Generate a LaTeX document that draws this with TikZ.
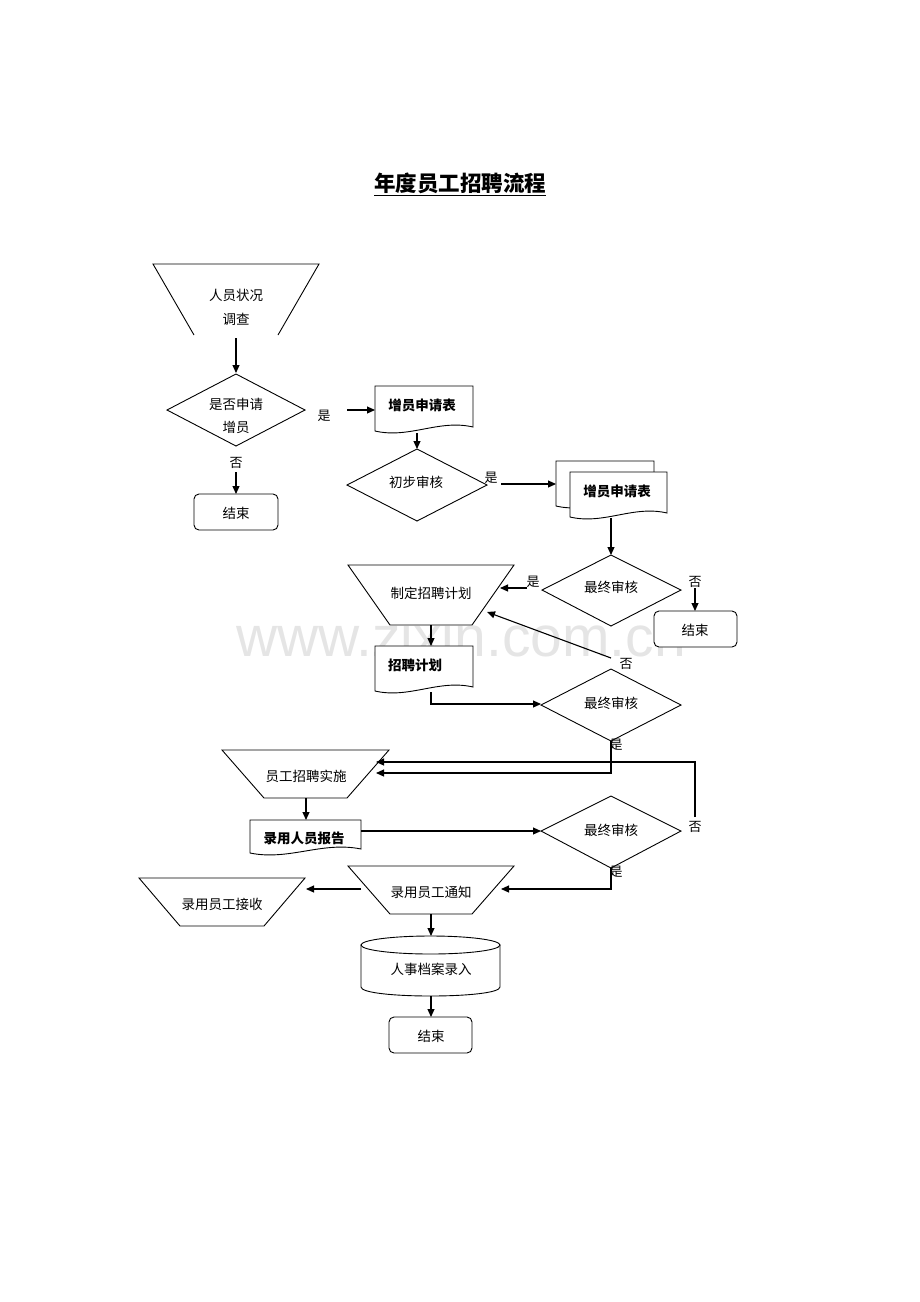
\documentclass[tikz,border=0pt]{standalone}
\usepackage{fontspec}
\setmainfont{Liberation Sans}
\newfontfamily\cjk{Noto Sans CJK SC}
\usetikzlibrary{arrows.meta}
\tikzset{
  shp/.style={draw=black, line width=0.9pt, fill=white},
  conn/.style={draw=black, line width=1.1pt},
  arr/.style={conn, -{Triangle[length=8pt,width=7pt]}},
  txt/.style={font=\cjk\fontsize{13.5}{15}\selectfont, inner sep=0pt},
  btxt/.style={font=\cjk\bfseries\fontsize{13.5}{15}\selectfont, inner sep=0pt},
  lbl/.style={font=\cjk\fontsize{13}{15}\selectfont, inner sep=0pt},
}
\newcommand\docbox[4]{%
  \path[shp] (#1,#4) -- (#1,#2) -- (#3,#2) -- (#3,{#4-4})
    .. controls ({#3-0.35*(#3-#1)},{#4-12}) and ({#1+0.35*(#3-#1)},{#4+8}) .. (#1,#4) -- cycle;}
\begin{document}
\begin{tikzpicture}[x=1pt,y=-1pt]
\useasboundingbox (0,0) rectangle (920,1302);
% watermark
\node[font=\fontsize{57}{60}\selectfont, text=black!10] (wm) at (461,636) {www.zixin.com.cn};
% title
\node[font=\cjk\bfseries\fontsize{21.5}{24}\selectfont, inner sep=0pt] (title) at (460,184) {\underline{年度员工招聘流程}};

% shapes
\draw[shp, fill=none] (194,335) -- (153,264) -- (319,264) -- (278,335);
\node[txt] (t1a) at (236,295) {人员状况};
\node[txt] (t1b) at (236,319) {调查};

\path[shp] (167,410) -- (236,374) -- (305,410) -- (236,446) -- cycle;
\node[txt] (d1a) at (236,404) {是否申请};
\node[txt] (d1b) at (236,427) {增员};

\draw[shp, rounded corners=5pt] (194,494) rectangle (278,530);
\node[txt] (e1) at (236,513) {结束};

\docbox{375}{386}{473}{431}
\node[btxt] (doc1) at (422,405) {增员申请表};

\path[shp] (347,485) -- (417,449) -- (487,485) -- (417,521) -- cycle;
\node[txt] (d2) at (416,482) {初步审核};

\docbox{556}{461}{654}{506}
\docbox{570}{472}{667}{517}
\node[btxt] (doc2) at (617,491) {增员申请表};

\path[shp] (542,590) -- (611,555) -- (681,590) -- (611,626) -- cycle;
\node[txt] (d3) at (611,587) {最终审核};

\draw[shp, rounded corners=5pt] (654,611) rectangle (737,647);
\node[txt] (e2) at (695,630) {结束};

\path[shp] (348,565) -- (514,565) -- (472,625) -- (390,625) -- cycle;
\node[txt] (p1) at (431,593) {制定招聘计划};

\docbox{375}{646}{473}{691}
\node[btxt] (doc3) at (415,665) {招聘计划};

\path[shp] (541,705) -- (611,669) -- (681,705) -- (611,741) -- cycle;
\node[txt] (d4) at (611,703) {最终审核};

\path[shp] (222,750) -- (389,750) -- (347,798) -- (264,798) -- cycle;
\node[txt] (p2) at (306,776) {员工招聘实施};

\docbox{250}{820}{361}{853}
\node[btxt] (doc4) at (304,838) {录用人员报告};

\path[shp] (541,831) -- (611,796) -- (681,831) -- (611,868) -- cycle;
\node[txt] (d5) at (611,830) {最终审核};

\path[shp] (348,866) -- (514,866) -- (472,914) -- (390,914) -- cycle;
\node[txt] (p3) at (431,892) {录用员工通知};

\path[shp] (139,878) -- (305,878) -- (264,926) -- (180,926) -- cycle;
\node[txt] (p4) at (222,904) {录用员工接收};

\path[shp] (361,945) -- (361,987) .. controls (361,999) and (500,999) .. (500,987) -- (500,945) -- cycle;
\draw[shp] (430.5,945) ellipse [x radius=69.5, y radius=9];
\node[txt] (cyl) at (431,969) {人事档案录入};

\draw[shp, rounded corners=5pt] (389,1017) rectangle (472,1053);
\node[txt] (e3) at (431,1036) {结束};

% labels
\node[lbl] (l1) at (324,416) {是};
\node[lbl] (l2) at (236,463) {否};
\node[lbl] (l3) at (491,478) {是};
\node[lbl] (l4) at (533,582) {是};
\node[lbl] (l5) at (695,582) {否};
\node[lbl] (l6) at (626,664) {否};
\node[lbl] (l7) at (616,745) {是};
\node[lbl] (l8) at (695,827) {否};
\node[lbl] (l9) at (616,872) {是};

% connectors
\draw[arr] (236,338) -- (236,373);
\draw[arr] (347,410) -- (375,410);
\draw[arr] (236,472) -- (236,494);
\draw[arr] (417,433) -- (417,449);
\draw[arr] (501,484) -- (556,484);
\draw[arr] (611,518) -- (611,555);
\draw[arr] (527,588) -- (500,588);
\draw[arr] (695,588) -- (695,611);
\draw[arr] (431,625) -- (431,646);
\draw[arr] (431,692) -- (431,704) -- (541,704);
\draw[arr] (611,658) -- (487,612);
\draw[arr] (611,741) -- (611,773) -- (376,773);
\draw[arr] (695,817) -- (695,762) -- (376,762);
\draw[arr] (306,798) -- (306,820);
\draw[arr] (361,831) -- (541,831);
\draw[arr] (611,868) -- (611,889) -- (501,889);
\draw[arr] (361,889) -- (306,889);
\draw[arr] (431,914) -- (431,936);
\draw[arr] (431,996) -- (431,1017);
\end{tikzpicture}
\end{document}
